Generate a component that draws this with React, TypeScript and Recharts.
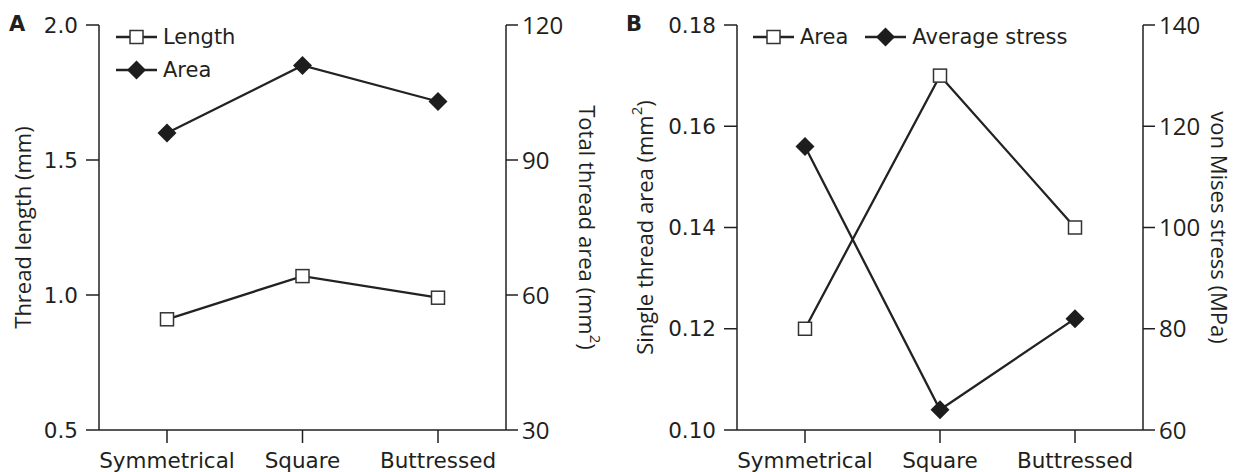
import React from 'react';
import { LineChart, Line, XAxis, YAxis, Legend } from 'recharts';

const categories = ['Symmetrical', 'Square', 'Buttressed'];
const lengthA = [0.91, 1.07, 0.99];
const totalAreaA = [96, 111, 103];
const singleAreaB = [0.12, 0.17, 0.14];
const stressB = [116, 64, 82];

const leftTicksA = [0.5, 1.0, 1.5, 2.0];
const rightTicksA = [30, 60, 90, 120];
const leftTicksB = [0.1, 0.12, 0.14, 0.16, 0.18];
const rightTicksB = [60, 80, 100, 120, 140];

const legendOrderA = ['Length', 'Area'];
const legendOrderB = ['Area', 'Average stress'];

const dataA = categories.map((c, i) => ({ cat: c, Length: lengthA[i], Area: totalAreaA[i] }));
const dataB = categories.map((c, i) => ({ cat: c, Area: singleAreaB[i], 'Average stress': stressB[i] }));

const INK = '#231f20';
const TAHOMA = "'DejaVu Sans', sans-serif";
const MYRIAD = "'Open Sans', sans-serif";

const tickStyleL = { fontFamily: TAHOMA, fontSize: 21.5, fill: INK };
const tickStyleR = { fontFamily: MYRIAD, fontSize: 24, fill: INK };

const SquareDot = (props: any) => {
  const { cx, cy, index } = props;
  if (cx == null || cy == null) return <g key={`s${index}`} />;
  return <rect key={`s${index}`} x={cx - 6.5} y={cy - 6.5} width={13} height={13} fill="#fff" stroke="#333" strokeWidth={1.5} />;
};
const DiamondDot = (props: any) => {
  const { cx, cy, index } = props;
  if (cx == null || cy == null) return <g key={`d${index}`} />;
  const r = 9.5;
  return <path key={`d${index}`} d={`M${cx},${cy - r}L${cx + r},${cy}L${cx},${cy + r}L${cx - r},${cy}Z`} fill="#1d1d1d" />;
};

const LegendIcon = ({ kind }: { kind: string }) => (
  <svg width={41} height={24} style={{ display: 'block', flex: 'none' }}>
    <line x1={0} y1={12} x2={41} y2={12} stroke="#222" strokeWidth={2.3} />
    {kind === 'square' ? (
      <rect x={14} y={5.5} width={13} height={13} fill="#fff" stroke="#333" strokeWidth={1.5} />
    ) : (
      <path d="M20.5,2.5L30,12L20.5,21.5L11,12Z" fill="#1d1d1d" />
    )}
  </svg>
);

const makeLegend = (vertical: boolean, shapes: Record<string, string>, order: string[]) => (props: any) => {
  const payload = [...(props.payload || [])].sort((a: any, b: any) => order.indexOf(a.value) - order.indexOf(b.value));
  return (
    <div style={{ display: 'flex', flexDirection: vertical ? 'column' : 'row', gap: vertical ? 9 : 17 }}>
      {payload.map((p: any) => (
        <div key={p.value} style={{ display: 'flex', alignItems: 'center', height: 24 }}>
          <LegendIcon kind={shapes[p.value]} />
          <span style={{ marginLeft: 6, fontFamily: TAHOMA, fontSize: 21, color: INK, lineHeight: '24px', whiteSpace: 'nowrap' }}>{p.value}</span>
        </div>
      ))}
    </div>
  );
};

const vLabel = (x: number, y: number, rot: number, text: string) => () => (
  <text x={x} y={y} transform={`rotate(${rot}, ${x}, ${y})`} textAnchor="middle" dominantBaseline="central"
    style={{ fontFamily: MYRIAD, fontSize: 22, fill: INK }}>
    {text}
  </text>
);
const vLabelSup = (x: number, y: number, rot: number, text: string) => () => (
  <text x={x} y={y} transform={`rotate(${rot}, ${x}, ${y})`} textAnchor="middle" dominantBaseline="central"
    style={{ fontFamily: MYRIAD, fontSize: 22, fill: INK }}>
    {text}(mm<tspan dy={-8} fontSize={15}>2</tspan><tspan dy={8}>)</tspan>
  </text>
);

const axisLine = { stroke: INK, strokeWidth: 1.5 };

export default function App() {
  return (
    <div style={{ position: 'absolute', left: 0, top: 0, width: 1235, height: 472, background: '#fff', overflow: 'hidden' }}>
      <div style={{ position: 'absolute', left: 0, top: 0 }}>
        <LineChart width={618} height={472} data={dataA} margin={{ top: 25, right: 0, bottom: 0, left: 0 }}>
          <XAxis dataKey="cat" padding={{ left: 68, right: 68 }} height={42} tickSize={13} tickMargin={10}
            axisLine={axisLine} tickLine={axisLine} tick={tickStyleL} interval={0} />
          <YAxis yAxisId="left" orientation="left" width={99} domain={[0.5, 2]} ticks={leftTicksA} type="number"
            tickFormatter={(v: number) => v.toFixed(1)} tickSize={13} tickMargin={8} axisLine={axisLine} tickLine={axisLine}
            tick={tickStyleL} label={{ content: vLabel(22, 227.5, -90, 'Thread length (mm)') }} />
          <YAxis yAxisId="right" orientation="right" width={112} domain={[30, 120]} ticks={rightTicksA} type="number"
            tickSize={12} tickMargin={4} axisLine={axisLine} tickLine={axisLine}
            tick={tickStyleR} label={{ content: vLabelSup(588, 227.5, 90, 'Total thread area ') }} />
          <Legend layout="vertical" align="center" verticalAlign="middle" itemSorter={null as any}
            wrapperStyle={{ left: 116, top: 25, width: 'auto' }}
            content={makeLegend(true, { Length: 'square', Area: 'diamond' }, legendOrderA)} />
          <Line yAxisId="left" dataKey="Length" stroke="#222" strokeWidth={2.3} dot={SquareDot} activeDot={false} isAnimationActive={false} />
          <Line yAxisId="right" dataKey="Area" stroke="#222" strokeWidth={2.3} dot={DiamondDot} activeDot={false} isAnimationActive={false} />
        </LineChart>
      </div>
      <div style={{ position: 'absolute', left: 618, top: 0 }}>
        <LineChart width={617} height={472} data={dataB} margin={{ top: 25, right: 0, bottom: 0, left: 0 }}>
          <XAxis dataKey="cat" padding={{ left: 68, right: 68 }} height={42} tickSize={13} tickMargin={10}
            axisLine={axisLine} tickLine={axisLine} tick={tickStyleL} interval={0} />
          <YAxis yAxisId="left" orientation="left" width={119} domain={[0.1, 0.18]} ticks={leftTicksB} type="number"
            tickFormatter={(v: number) => v.toFixed(2)} tickSize={13} tickMargin={8} axisLine={axisLine} tickLine={axisLine}
            tick={tickStyleL} label={{ content: vLabelSup(26, 227.5, -90, 'Single thread area ') }} />
          <YAxis yAxisId="right" orientation="right" width={92} domain={[60, 140]} ticks={rightTicksB} type="number"
            tickSize={12} tickMargin={4} axisLine={axisLine} tickLine={axisLine}
            tick={tickStyleR} label={{ content: vLabel(602, 227.5, 90, 'von Mises stress (MPa)') }} />
          <Legend layout="vertical" align="center" verticalAlign="middle" itemSorter={null as any}
            wrapperStyle={{ left: 135, top: 25, width: 'auto' }}
            content={makeLegend(false, { Area: 'square', 'Average stress': 'diamond' }, legendOrderB)} />
          <Line yAxisId="left" dataKey="Area" stroke="#222" strokeWidth={2.3} dot={SquareDot} activeDot={false} isAnimationActive={false} />
          <Line yAxisId="right" dataKey="Average stress" stroke="#222" strokeWidth={2.3} dot={DiamondDot} activeDot={false} isAnimationActive={false} />
        </LineChart>
      </div>
      <div style={{ position: 'absolute', left: 9, top: 14, fontFamily: TAHOMA, fontWeight: 'bold', fontSize: 21, lineHeight: '21px', color: INK }}>A</div>
      <div style={{ position: 'absolute', left: 626, top: 14, fontFamily: TAHOMA, fontWeight: 'bold', fontSize: 21, lineHeight: '21px', color: INK }}>B</div>
    </div>
  );
}
